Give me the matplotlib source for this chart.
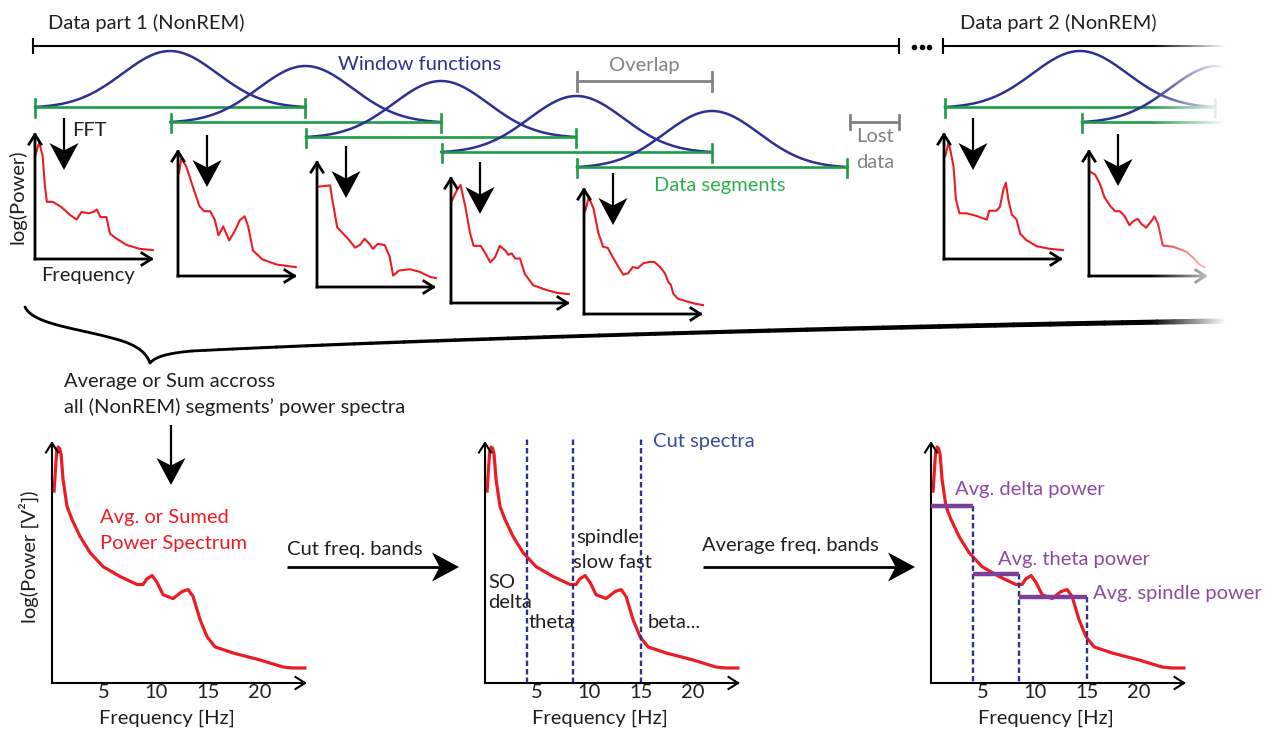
import numpy as np
import matplotlib
matplotlib.use("Agg")
import matplotlib.pyplot as plt
from matplotlib.patches import Polygon
from matplotlib.collections import LineCollection

plt.rcParams['font.family'] = ['Lato', 'DejaVu Sans']

W, H = 1282, 731

# ---------------- data ----------------
# segments of each data part, 50 % overlap (index = start in half-segment steps)
part1_segments = [0, 1, 2, 3, 4]
part2_segments = [0, 1]
window_sigma = 0.175   # gaussian window width (fraction of segment)

# power spectra of single segments (normalised frequency, normalised log power)
seg1_f = [0, .036, .064, .084, .10, .15, .22, .29, .35, .39, .45, .49, .52, .55, .60, .63, .67, .77, .88, .99]
seg1_p = [.81, .92, .81, .57, .45, .45, .41, .35, .31, .37, .36, .37, .39, .33, .33, .20, .17, .11, .08, .07]
seg2_f = [.008, .028, .07, .126, .18, .22, .27, .31, .34, .38, .43, .48, .52, .56, .59, .63, .71, .83, .99]
seg2_p = [.81, .93, .86, .70, .55, .51, .51, .44, .32, .39, .28, .36, .44, .47, .39, .20, .13, .09, .07]
seg3_f = [.01, .11, .13, .17, .22, .27, .32, .36, .40, .44, .47, .51, .57, .61, .64, .69, .78, .86, .95, 1.0]
seg3_p = [.79, .80, .68, .47, .42, .37, .31, .33, .38, .34, .30, .34, .33, .24, .09, .13, .14, .12, .08, .07]
seg4_f = [.01, .05, .08, .12, .16, .19, .25, .29, .33, .37, .41, .46, .48, .51, .54, .58, .62, .69, .81, .89, .99]
seg4_p = [.81, .89, .93, .76, .55, .45, .45, .39, .32, .36, .45, .41, .38, .39, .35, .35, .23, .14, .10, .08, .07]
seg5_f = [.01, .04, .08, .12, .16, .20, .24, .29, .33, .37, .41, .45, .50, .55, .59, .64, .68, .71, .73, .75, .79, .86, .94, 1.0]
seg5_p = [.81, .92, .83, .64, .53, .52, .45, .37, .31, .32, .37, .36, .40, .41, .41, .37, .32, .25, .23, .16, .12, .10, .08, .07]
seg6_f = [.01, .04, .08, .10, .13, .19, .27, .33, .36, .38, .44, .47, .50, .52, .54, .57, .61, .64, .69, .78, .89, 1.0]
seg6_p = [.81, .92, .73, .47, .36, .36, .34, .32, .31, .38, .38, .41, .55, .60, .47, .35, .31, .20, .15, .10, .08, .07]
seg7_f = [.01, .05, .09, .13, .18, .22, .26, .30, .34, .37, .41, .44, .48, .53, .55, .58, .62, .71, .82, .88, .93, .97]
seg7_p = [.82, .80, .73, .62, .55, .51, .51, .47, .40, .43, .45, .41, .38, .44, .47, .41, .24, .23, .19, .14, .09, .07]

# averaged power spectrum (Hz, log power in arbitrary units)
avg_freq = [0.2, 0.38, 0.45, 0.58, 0.72, 0.87, 1.06, 1.44, 1.92, 2.69, 3.65, 4.9, 6.54, 8.17, 8.75, 9.1,
            9.62, 10.1, 10.67, 11.63, 12.5, 13.08, 13.56, 14.23, 14.9, 15.67, 17.4, 20.0, 22.2, 23.17, 24.3]
avg_power = [7.93, 9.13, 9.55, 9.75, 9.7, 9.46, 8.42, 7.30, 6.76, 6.06, 5.39, 4.81, 4.40, 4.07, 4.07, 4.3,
             4.44, 4.15, 3.65, 3.49, 3.78, 3.86, 3.57, 2.61, 1.91, 1.49, 1.24, 0.95, 0.66, 0.62, 0.62]
freq_ticks = [5, 10, 15, 20]

band_edges = [4, 8.5, 15]           # Hz
band_avg = [7.33, 4.49, 3.54]       # avg. delta / theta / spindle power
band_labels = ['Avg. delta power', 'Avg. theta power', 'Avg. spindle power']

# ---------------- style ----------------
INK = '#231f20'
NAVY = '#2e3192'
GREEN = '#1e9c48'
GREEN_TXT = '#2bb04a'
GRAY = '#808285'
RED = '#ed1c24'
PURPLE = '#7e3f98'
PURPLE_TXT = '#8c4b9f'
BLUE_DASH = '#2e3192'
FS = 14.5

fig = plt.figure(figsize=(W / 100, H / 100), dpi=100)


def box(x0, top, w, h):
    return [x0 / W, 1 - (top + h) / H, w / W, h / H]


ax = fig.add_axes([0, 0, 1, 1], zorder=1)
ax.set_xlim(0, W)
ax.set_ylim(H, 0)
ax.axis('off')


def big_arrow(x0, y0, x1, y1, lw=1.6, hl=27, hw=29):
    d = np.array([x1 - x0, y1 - y0], float)
    u = d / np.hypot(*d)
    n = np.array([-u[1], u[0]])
    tip = np.array([x1, y1], float)
    back = tip - u * hl
    notch = tip - u * hl * 0.72
    ax.plot([x0, notch[0]], [y0, notch[1]], color='k', lw=lw, solid_capstyle='butt')
    ax.add_patch(Polygon([tip, back + n * hw / 2, notch, back - n * hw / 2], closed=True,
                         color='k', lw=0))


def axis_arrows(a, lw):
    style = '->,head_length=0.38,head_width=0.24'
    for xy in [(0, 1.0), (1.0, 0)]:
        a.annotate('', xy=xy, xytext=(0, 0), xycoords='axes fraction',
                   arrowprops=dict(arrowstyle=style, lw=lw, color='k', shrinkA=0, shrinkB=0,
                                   mutation_scale=18, capstyle='projecting'))


# ---------------- top: data parts, windows, segments ----------------
SEG_W, BELL_H = 270, 56


def draw_part(x_start, base0, step, segments):
    for s in segments:
        x0 = x_start + s * step
        base = base0 + 15 * s
        t = np.linspace(0, 1, 200)
        g = np.exp(-((t - 0.5) ** 2) / (2 * window_sigma ** 2))
        g = (g - g[0]) / (1 - g[0])
        ax.plot(x0 + t * SEG_W, base - BELL_H * g, color=NAVY, lw=1.8)
        ax.plot([x0, x0 + SEG_W], [base, base], color=GREEN, lw=1.9)
        for xe in (x0, x0 + SEG_W):
            ax.plot([xe, xe], [base - 8, base + 10], color=GREEN, lw=1.9)


draw_part(35, 107, 135.5, part1_segments)
draw_part(945, 107, 137, part2_segments)

# data part brackets
ax.plot([33, 899], [46, 46], color='k', lw=1.5)
ax.plot([33, 33], [39, 53], color='k', lw=1.5)
ax.plot([899, 899], [39, 53], color='k', lw=1.5)
ax.plot([943, 1225], [46, 46], color='k', lw=1.5)
ax.plot([943, 943], [39, 53], color='k', lw=1.5)
ax.plot([914, 922, 929], [47, 47, 47], 'o', color='k', ms=3)
ax.text(48, 23, 'Data part 1 (NonREM)', fontsize=FS, color=INK, va='center')
ax.text(960, 23, 'Data part 2 (NonREM)', fontsize=FS, color=INK, va='center')
ax.text(338, 64, 'Window functions', fontsize=FS, color=NAVY, va='center')

# overlap and lost data
ov0 = 35 + part1_segments[4] * 135.5
ov1 = 35 + part1_segments[3] * 135.5 + SEG_W
ax.plot([ov0, ov1], [81, 81], color=GRAY, lw=2)
for xe in (ov0, ov1):
    ax.plot([xe, xe], [72, 91], color=GRAY, lw=2)
ax.text((ov0 + ov1) / 2, 66, 'Overlap', fontsize=FS, color=GRAY, ha='center', va='center')
lost0 = 35 + part1_segments[4] * 135.5 + SEG_W + 3
ax.plot([lost0, 899], [122, 122], color=GRAY, lw=2)
for xe in (lost0, 899):
    ax.plot([xe, xe], [115, 129], color=GRAY, lw=2)
ax.text(856, 137, 'Lost', fontsize=FS, color=GRAY, va='center')
ax.text(856, 163, 'data', fontsize=FS, color=GRAY, va='center')
ax.text(720, 185, 'Data segments', fontsize=FS, color=GREEN_TXT, ha='center', va='center')

# mini spectra
mini_f = [seg1_f, seg2_f, seg3_f, seg4_f, seg5_f, seg6_f, seg7_f]
mini_p = [seg1_p, seg2_p, seg3_p, seg4_p, seg5_p, seg6_p, seg7_p]
mini_origin = [(35, 259), (178, 276), (317, 287), (451, 303), (584, 314), (944, 259), (1089, 276)]
arrow_top = [118, 135, 146, 162, 173, 118, 134]
MW, MH = 119, 127
for f, p, (x0, yb), at in zip(mini_f, mini_p, mini_origin, arrow_top):
    m = fig.add_axes(box(x0, yb - MH, MW, MH), zorder=2)
    m.set_facecolor('none')
    m.set_xlim(0, 1)
    m.set_ylim(0, 1)
    m.axis('off')
    m.plot(f, p, color=RED, lw=1.5, clip_on=False, solid_joinstyle='round')
    axis_arrows(m, 2.0)
    big_arrow(x0 + 29, at, x0 + 29, at + 52)

ax.text(72, 130, 'FFT', fontsize=FS, color=INK, va='center')
ax.text(17, 197, 'log(Power)', fontsize=FS, color=INK, va='center', ha='center', rotation=90)
ax.text(88, 276, 'Frequency', fontsize=FS, color=INK, va='center', ha='center')

# curly brace
t = np.linspace(0, 1, 60)[:, None]


def bez(p0, p1, p2, p3):
    p0, p1, p2, p3 = map(np.array, (p0, p1, p2, p3))
    return (1 - t) ** 3 * p0 + 3 * (1 - t) ** 2 * t * p1 + 3 * (1 - t) * t ** 2 * p2 + t ** 3 * p3


left = np.vstack([bez((25, 307), (33, 324), (75, 328), (112, 338)),
                  bez((112, 338), (136, 344), (146, 352), (150, 363)),
                  bez((150, 363), (156, 356), (170, 353), (192, 351))])
ax.plot(left[:, 0], left[:, 1], color='k', lw=2.0, solid_capstyle='round')
right = bez((192, 351), (450, 338), (900, 326), (1225, 321))
segs = np.stack([right[:-1], right[1:]], axis=1)
ax.add_collection(LineCollection(segs, colors='k', linewidths=np.linspace(2.0, 3.8, len(segs)),
                                 capstyle='round'))

ax.text(64, 382, 'Average or Sum accross', fontsize=FS, color=INK, va='center')
ax.text(64, 407, 'all (NonREM) segments\u2019 power spectra', fontsize=FS, color=INK, va='center')
big_arrow(171, 425, 171, 485)

# fade out on the right of the top part
gax = fig.add_axes(box(1140, 0, 142, 345), zorder=5)
grad = np.ones((1, 142, 4))
grad[..., 3] = np.clip((np.arange(142) - 10) / 75, 0, 1)
gax.imshow(grad, aspect='auto', extent=(0, 1, 0, 1))
gax.axis('off')

# ---------------- bottom: averaged spectra ----------------
BW, BH, BB = 255, 242, 683
bottom_left = [52, 485, 931]
bottom_axes = []
for x0 in bottom_left:
    b = fig.add_axes(box(x0, BB - BH, BW, BH), zorder=2)
    b.set_facecolor('none')
    b.set_xlim(0, 24.5)
    b.set_ylim(0, 10)
    for s in b.spines.values():
        s.set_visible(False)
    b.set_yticks([])
    b.set_xticks(freq_ticks)
    b.tick_params(axis='x', length=0, pad=1, labelsize=FS, labelcolor=INK)
    b.plot(avg_freq, avg_power, color=RED, lw=2.3, clip_on=False, solid_joinstyle='round')
    axis_arrows(b, 1.5)
    bottom_axes.append(b)
    ax.text(x0 + 115, 718, 'Frequency [Hz]', fontsize=FS, color=INK, ha='center', va='center')

ax.text(29, 557, 'log(Power [V\u00b2])', fontsize=FS, color=INK, ha='center', va='center', rotation=90)
ax.text(100, 517, 'Avg. or Sumed', fontsize=FS, color=RED, va='center')
ax.text(100, 543, 'Power Spectrum', fontsize=FS, color=RED, va='center')

# cut spectra
b2 = bottom_axes[1]
for e in band_edges:
    b2.plot([e, e], [0, 10.15], color=BLUE_DASH, lw=1.7, ls=(0, (2.3, 1.3)), clip_on=False)
ax.text(653, 441, 'Cut spectra', fontsize=FS, color='#3a4a9f', va='center')
ax.text(576, 538, 'spindle', fontsize=FS, color=INK, va='center')
ax.text(573, 562, 'slow fast', fontsize=FS, color=INK, va='center')
ax.text(488, 582, 'SO', fontsize=FS, color=INK, va='center')
ax.text(488, 603, 'delta', fontsize=FS, color=INK, va='center')
ax.text(529, 622, 'theta', fontsize=FS, color=INK, va='center')
ax.text(648, 622, 'beta...', fontsize=FS, color=INK, va='center')

# averaged bands
b3 = bottom_axes[2]
lo = 0
for e, v in zip(band_edges, band_avg):
    b3.plot([e, e], [v, 0], color=BLUE_DASH, lw=1.7, ls=(0, (2.3, 1.3)), clip_on=False)
    b3.plot([lo, e], [v, v], color=PURPLE, lw=3.2, solid_capstyle='butt', clip_on=False, zorder=4)
    lo = e
label_pos = [(955, 489), (998, 559), (1093, 593)]
for (x, y), lab in zip(label_pos, band_labels):
    ax.text(x, y, lab, fontsize=FS, color=PURPLE_TXT, va='center')

# process arrows
ax.text(287, 550, 'Cut freq. bands', fontsize=FS, color=INK, va='center')
big_arrow(287, 567, 459, 567, lw=2.0)
ax.text(702, 545, 'Average freq. bands', fontsize=FS, color=INK, va='center')
big_arrow(703, 567, 915, 567, lw=2.0)

fig.savefig('out.png', dpi=100)
